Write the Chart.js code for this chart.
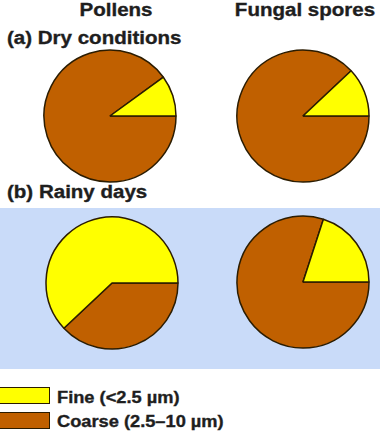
<!DOCTYPE html>
<html>
<head>
<meta charset="utf-8">
<script src="https://cdn.jsdelivr.net/npm/chart.js@4"></script>
<style>
  body { margin: 0; background: #fff; }
  #wrap { position: relative; width: 380px; height: 433px; overflow: hidden; font-family: "Liberation Sans", Arial, sans-serif; font-weight: bold; color: #1e1e1e; }
  .band { position: absolute; left: 0; top: 208px; width: 380px; height: 161px; background: #c9dbf9; }
  .txt { position: absolute; white-space: nowrap; line-height: 1; transform-origin: left center; transform: scaleX(1.14); -webkit-text-stroke: 0.35px #1e1e1e; }
  .t18 { font-size: 18px; }
  .t16 { font-size: 16px; }
  .ctr { transform-origin: center center; text-align: center; width: 200px; }
  .pie { position: absolute; width: 140px; height: 140px; }
  .box { position: absolute; left: -1px; width: 49px; height: 15px; border: 1.5px solid #2b1c00; }
</style>
</head>
<body>
<div id="wrap">
  <div class="band"></div>
  <div class="txt t18 ctr" style="left:16px; top:1px;" id="colA"></div>
  <div class="txt t18 ctr" style="left:205px; top:1px;" id="colB"></div>
  <div class="txt t18" style="left:7px; top:29px;" id="rowA"></div>
  <div class="txt t18" style="left:7px; top:183px;" id="rowB"></div>
  <div class="pie" style="left:40px; top:46px;"><canvas id="p0" width="140" height="140"></canvas></div>
  <div class="pie" style="left:233px; top:46px;"><canvas id="p1" width="140" height="140"></canvas></div>
  <div class="pie" style="left:42px; top:213px;"><canvas id="p2" width="140" height="140"></canvas></div>
  <div class="pie" style="left:233px; top:212px;"><canvas id="p3" width="140" height="140"></canvas></div>
  <div class="box" style="top:387px;" id="box0"></div>
  <div class="box" style="top:412px;" id="box1"></div>
  <div class="txt t16" style="left:57px; top:390px;" id="leg0"></div>
  <div class="txt t16" style="left:57px; top:414px;" id="leg1"></div>
</div>
<script>
// size fractions (percent)
const columns = ['Pollens', 'Fungal spores'];
const rows = ['(a) Dry conditions', '(b) Rainy days'];
const fractions = ['Coarse (2.5\u201310 \u00b5m)', 'Fine (<2.5 \u00b5m)'];
const colors = ['#c06000', '#ffff00'];

const dryFine = [10, 12];
const rainyFine = [62, 20];

document.getElementById('colA').textContent = columns[0];
document.getElementById('colB').textContent = columns[1];
document.getElementById('rowA').textContent = rows[0];
document.getElementById('rowB').textContent = rows[1];

// legend lists fine first
document.getElementById('leg0').textContent = fractions[1];
document.getElementById('leg1').textContent = fractions[0];
document.getElementById('box0').style.background = colors[1];
document.getElementById('box1').style.background = colors[0];

function makePie(id, fine) {
    new Chart(document.getElementById(id), {
        type: 'pie',
        data: {
            labels: fractions,
            datasets: [{
                data: [100 - fine, fine],
                backgroundColor: colors,
                borderColor: '#2b1c00',
                borderWidth: 1.5
            }]
        },
        options: {
            responsive: false,
            animation: false,
            rotation: 90,
            radius: 66,
            layout: { padding: 0 },
            plugins: {
                legend: { display: false },
                tooltip: { enabled: false }
            }
        }
    });
}

['p0', 'p1'].forEach((id, i) => makePie(id, dryFine[i]));
['p2', 'p3'].forEach((id, i) => makePie(id, rainyFine[i]));
</script>
</body>
</html>
